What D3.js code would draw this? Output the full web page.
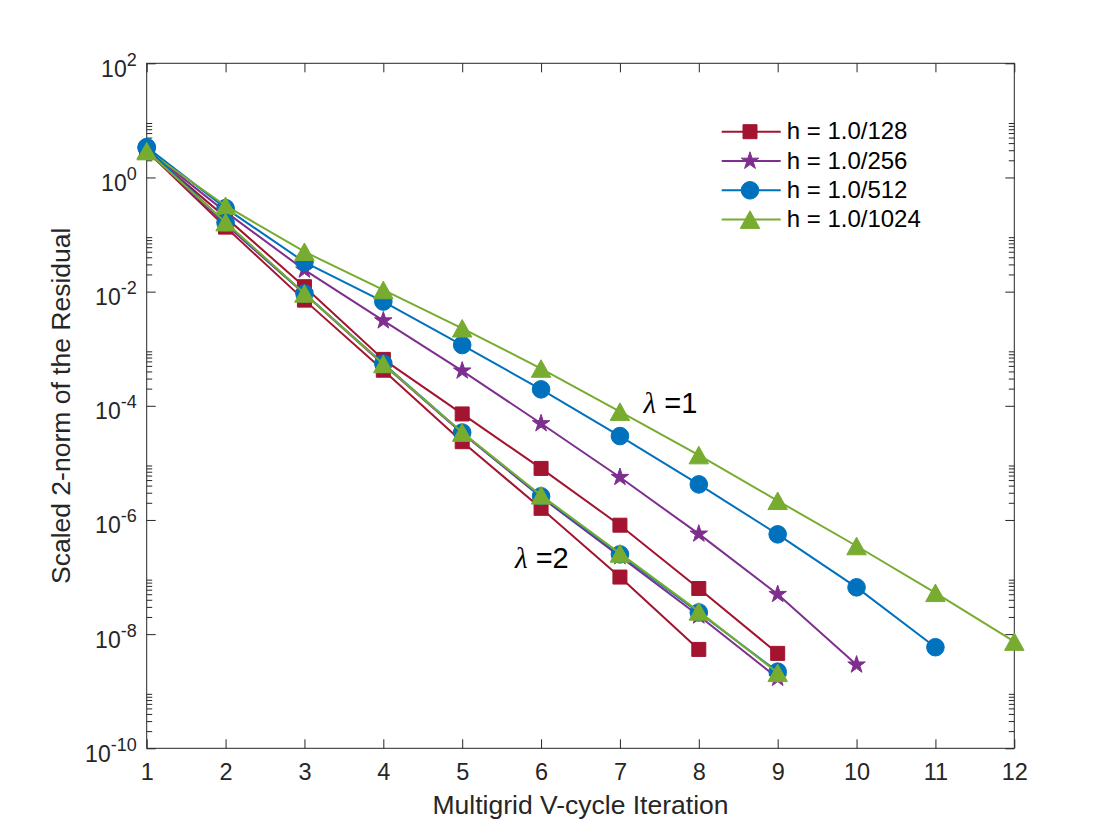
<!DOCTYPE html>
<html>
<head>
<meta charset="utf-8">
<title>Multigrid V-cycle residual</title>
<script src="https://d3js.org/d3.v7.min.js"></script>
<style>
  body { margin: 0; background: #fff; }
  text { font-family: "Liberation Sans", Arial, Helvetica, sans-serif; }
</style>
</head>
<body>
<div id="my_dataviz"></div>
<script>

// iteration numbers (x axis)
var iterations = [1, 2, 3, 4, 5, 6, 7, 8, 9, 10, 11, 12];

// residuals, lambda = 1
var h128_l1  = [3.0, 0.20, 0.0122, 6.5e-4, 7.2e-5, 8.0e-6, 8.1e-7, 6.3e-8, 4.6e-9];
var h256_l1  = [3.1, 0.25, 0.024, 3.1e-3, 4.1e-4, 4.9e-5, 5.6e-6, 5.7e-7, 5.0e-8, 2.9e-9];
var h512_l1  = [3.4, 0.29, 0.033, 6.7e-3, 1.16e-3, 1.94e-4, 2.95e-5, 4.2e-6, 5.6e-7, 6.6e-8, 5.9e-9];
var h1024_l1 = [3.0, 0.32, 0.050, 1.07e-2, 2.28e-3, 4.5e-4, 7.9e-5, 1.37e-5, 2.17e-6, 3.5e-7, 5.3e-8, 7.4e-9];

// residuals, lambda = 2
var h128_l2  = [2.9, 0.135, 0.0071, 4.2e-4, 2.35e-5, 1.6e-6, 1.0e-7, 5.4e-9];
var h256_l2  = [3.0, 0.150, 0.0092, 5.3e-4, 3.3e-5, 2.5e-6, 2.3e-7, 2.1e-8, 1.7e-9];
var h512_l2  = [3.3, 0.160, 0.0093, 5.5e-4, 3.4e-5, 2.6e-6, 2.5e-7, 2.4e-8, 2.2e-9];
var h1024_l2 = [2.9, 0.165, 0.0093, 5.4e-4, 3.4e-5, 2.7e-6, 2.6e-7, 2.5e-8, 2.1e-9];

var legendLabels = ["h = 1.0/128", "h = 1.0/256", "h = 1.0/512", "h = 1.0/1024"];
var xTicks = [1, 2, 3, 4, 5, 6, 7, 8, 9, 10, 11, 12];
var yTickExponents = [-10, -8, -6, -4, -2, 0, 2];

// lambda annotations (data coords)
var annotations = [
  {label: "=1", x: 7.3, y: 7.6e-5},
  {label: "=2", x: 5.67, y: 1.42e-7}
];

// matlab default colours, one per h
var colors = ["#A2142F", "#7E2F8E", "#0072BD", "#77AC30"];
var markers = ["square", "star", "circle", "triangle"];

var series = [
  {values: h128_l1, k: 0}, {values: h256_l1, k: 1}, {values: h512_l1, k: 2}, {values: h1024_l1, k: 3},
  {values: h128_l2, k: 0}, {values: h256_l2, k: 1}, {values: h512_l2, k: 2}, {values: h1024_l2, k: 3}
];

var W = 1120, H = 840;
var plot = {left: 146.7, right: 1014.3, top: 63.3, bottom: 748.3};
var axisColor = "#262626";

var svg = d3.select("#my_dataviz")
  .append("svg")
    .attr("width", W)
    .attr("height", H);

var x = d3.scaleLinear().domain([1, 12]).range([plot.left, plot.right]);
var y = d3.scaleLog().domain([1e-10, 1e2]).range([plot.bottom, plot.top]);

var majorTicks = yTickExponents.map(function(e) { return Math.pow(10, e); });

// minor log ticks 2..9 in every decade
var minorTicks = [];
yTickExponents.slice(0, -1).forEach(function(e) {
  for (var m = 2; m <= 9; m++) minorTicks.push(m * Math.pow(10, e));
});

function styleAxis(g) {
  g.select(".domain").remove();
  g.selectAll(".tick line").attr("stroke", axisColor).attr("stroke-width", 1);
  g.selectAll(".tick text").attr("fill", axisColor);
}

// bottom axis
svg.append("g")
  .attr("transform", "translate(0," + plot.bottom + ")")
  .call(d3.axisBottom(x).tickValues(xTicks).tickSize(-9).tickPadding(15).tickFormat(d3.format("d")))
  .call(styleAxis)
  .selectAll("text").attr("font-size", "23.5px").attr("font-family", "Liberation Sans, Arial, sans-serif");

// top axis, ticks only
svg.append("g")
  .attr("transform", "translate(0," + plot.top + ")")
  .call(d3.axisTop(x).tickValues(xTicks).tickSize(-9).tickFormat(""))
  .call(styleAxis);

// left axis with 10^n labels
var yAxisG = svg.append("g")
  .attr("transform", "translate(" + plot.left + ",0)")
  .call(d3.axisLeft(y).tickValues(majorTicks).tickSize(-9).tickPadding(10).tickFormat(""))
  .call(styleAxis);

yAxisG.selectAll(".tick text")
  .attr("font-size", "23px")
  .attr("font-family", "Liberation Sans, Arial, sans-serif")
  .attr("dy", 13)
  .each(function(d) {
    var t = d3.select(this);
    t.append("tspan").text("10");
    t.append("tspan").attr("dy", -11).attr("font-size", "18px").text(Math.round(Math.log10(d)));
  });

svg.append("g")
  .attr("transform", "translate(" + plot.left + ",0)")
  .call(d3.axisLeft(y).tickValues(minorTicks).tickSize(-5.5).tickFormat(""))
  .call(styleAxis);

// right axis, ticks only
svg.append("g")
  .attr("transform", "translate(" + plot.right + ",0)")
  .call(d3.axisRight(y).tickValues(majorTicks).tickSize(-9).tickFormat(""))
  .call(styleAxis);
svg.append("g")
  .attr("transform", "translate(" + plot.right + ",0)")
  .call(d3.axisRight(y).tickValues(minorTicks).tickSize(-5.5).tickFormat(""))
  .call(styleAxis);

// box
svg.append("rect")
  .attr("x", plot.left).attr("y", plot.top)
  .attr("width", plot.right - plot.left).attr("height", plot.bottom - plot.top)
  .attr("fill", "none")
  .attr("stroke", axisColor)
  .attr("stroke-width", 1);

// axis labels
svg.append("text")
  .attr("x", (plot.left + plot.right) / 2)
  .attr("y", 814)
  .attr("text-anchor", "middle")
  .attr("font-size", "26.5px")
  .attr("fill", axisColor)
  .text("Multigrid V-cycle Iteration");

svg.append("text")
  .attr("transform", "translate(70," + (plot.top + plot.bottom) / 2 + ") rotate(-90)")
  .attr("text-anchor", "middle")
  .attr("font-size", "26.5px")
  .attr("fill", axisColor)
  .text("Scaled 2-norm of the Residual");

// marker shapes
var triangleShape = {
  draw: function(ctx, size) {
    var w = size, h = size * 0.9;
    ctx.moveTo(0, -h / 2);
    ctx.lineTo(w / 2, h / 2);
    ctx.lineTo(-w / 2, h / 2);
    ctx.closePath();
  }
};

function markerPath(kind) {
  if (kind == "square") return d3.symbol().type(d3.symbolSquare).size(14 * 14)();
  if (kind == "star") return d3.symbol().type(d3.symbolStar).size(95)();
  if (kind == "circle") return d3.symbol().type(d3.symbolCircle).size(Math.PI * 8.8 * 8.8)();
  return d3.symbol().type(triangleShape).size(19.5)();
}

var line = d3.line()
  .x(function(d, i) { return x(iterations[i]); })
  .y(function(d) { return y(d); });

// draw every series: line then its markers
series.forEach(function(s) {
  var g = svg.append("g");
  g.append("path")
    .datum(s.values)
    .attr("d", line)
    .attr("fill", "none")
    .attr("stroke", colors[s.k])
    .attr("stroke-width", 2);
  g.selectAll("path.mk")
    .data(s.values)
    .enter()
    .append("path")
      .attr("class", "mk")
      .attr("d", markerPath(markers[s.k]))
      .attr("transform", function(d, i) { return "translate(" + x(iterations[i]) + "," + y(d) + ")"; })
      .attr("fill", colors[s.k])
      .attr("stroke", colors[s.k])
      .attr("stroke-width", 1);
});

// lambda annotations
annotations.forEach(function(a) {
  var t = svg.append("text")
    .attr("x", x(a.x))
    .attr("y", y(a.y))
    .attr("font-size", "29px")
    .attr("fill", "#000");
  t.append("tspan")
    .attr("font-family", "Liberation Serif, DejaVu Serif, serif")
    .attr("font-style", "italic")
    .text("\u03bb");
  t.append("tspan").text(" " + a.label);
});

// legend (no box)
var legend = svg.append("g");
legendLabels.forEach(function(lbl, k) {
  var ly = 131.7 + k * 29.3;
  legend.append("line")
    .attr("x1", 721.7).attr("x2", 780.7)
    .attr("y1", ly).attr("y2", ly)
    .attr("stroke", colors[k])
    .attr("stroke-width", 2);
  legend.append("path")
    .attr("d", markerPath(markers[k]))
    .attr("transform", "translate(750," + ly + ")")
    .attr("fill", colors[k])
    .attr("stroke", colors[k]);
  legend.append("text")
    .attr("x", 786.7)
    .attr("y", ly)
    .attr("dy", "0.32em")
    .attr("font-size", "24px")
    .attr("fill", "#000")
    .text(lbl);
});

</script>
</body>
</html>
